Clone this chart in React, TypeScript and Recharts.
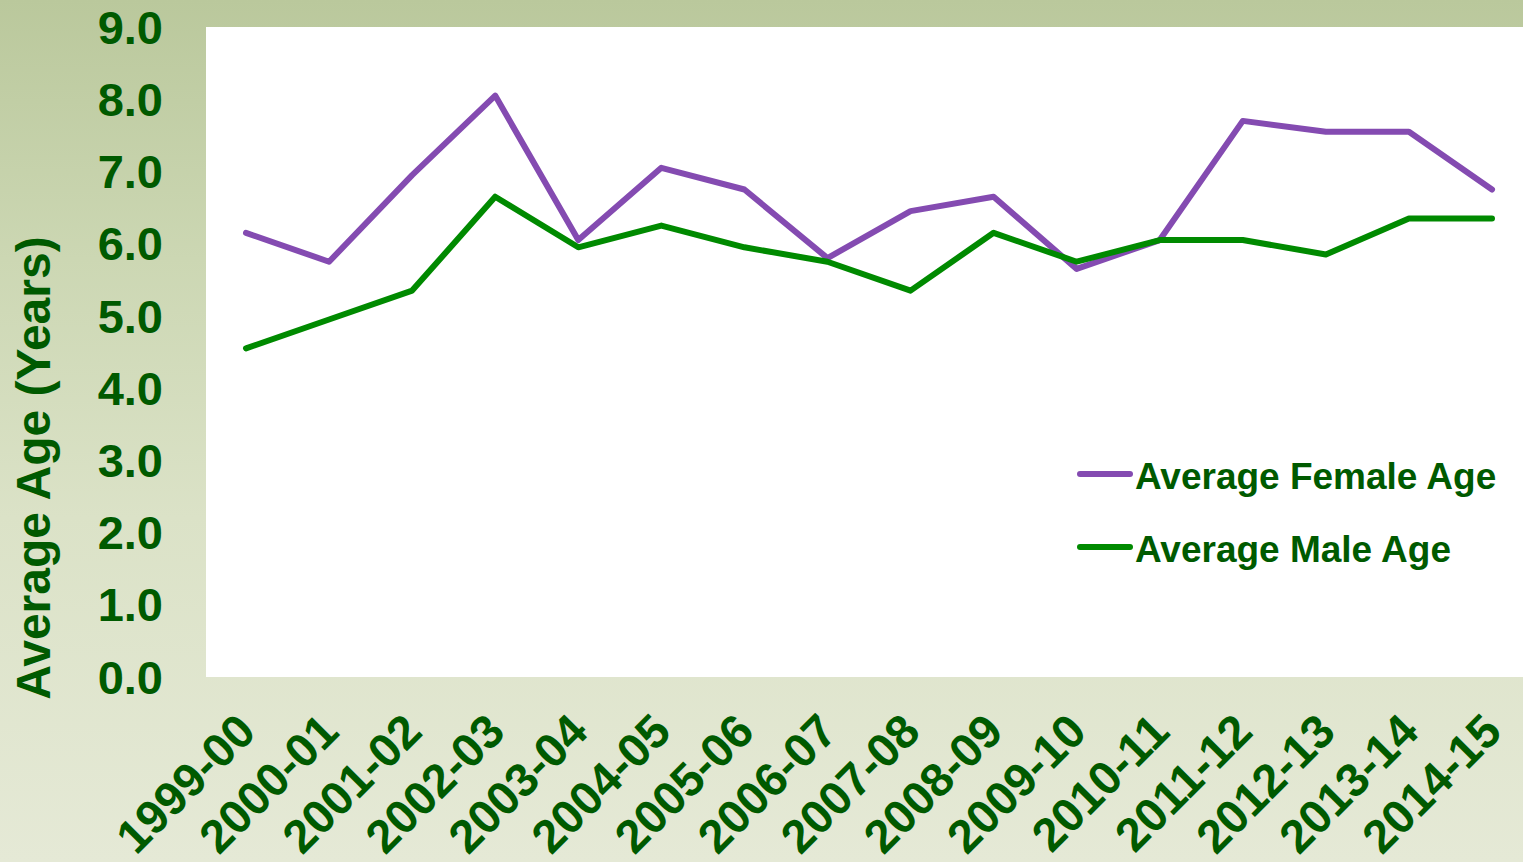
import { LineChart, Line, XAxis, YAxis, CartesianGrid } from 'recharts';

const seasons = [
  '1999-00', '2000-01', '2001-02', '2002-03', '2003-04', '2004-05', '2005-06', '2006-07',
  '2007-08', '2008-09', '2009-10', '2010-11', '2011-12', '2012-13', '2013-14', '2014-15',
];
const femaleAge = [6.15, 5.75, 6.95, 8.05, 6.05, 7.05, 6.75, 5.8, 6.45, 6.65, 5.65, 6.05, 7.7, 7.55, 7.55, 6.75];
const maleAge = [4.55, 4.95, 5.35, 6.65, 5.95, 6.25, 5.95, 5.75, 5.35, 6.15, 5.75, 6.05, 6.05, 5.85, 6.35, 6.35];
const yTicks = [0, 1, 2, 3, 4, 5, 6, 7, 8, 9];

const data = seasons.map((s, i) => ({ season: s, female: femaleAge[i], male: maleAge[i] }));

const TEXT = '#005a00';
const PURPLE = '#844bb1';
const GREEN = '#008a00';
const FONT = '"Liberation Sans", Arial, sans-serif';

const series = [
  { key: 'female', name: 'Average Female Age', color: PURPLE },
  { key: 'male', name: 'Average Male Age', color: GREEN },
];

// rotated season labels, end of text sits just right of / below the tick
const SeasonTick = ({ x, y, payload }: any) => (
  <text
    x={x + 12}
    y={y + 57}
    transform={`rotate(-45, ${x + 12}, ${y + 57})`}
    textAnchor="end"
    fill={TEXT}
    fontFamily={FONT}
    fontWeight="bold"
    fontSize={47}
  >
    {payload.value}
  </text>
);

export default function App() {
  return (
    <div
      style={{
        position: 'absolute',
        left: 0,
        top: 0,
        width: 1523,
        height: 862,
        overflow: 'hidden',
        background: 'linear-gradient(180deg, #bac89c 0%, #ccd7b3 30%, #dbe2c7 60%, #e5e9d6 100%)',
      }}
    >
      <LineChart width={1523} height={862} data={data} margin={{ top: 27, right: 0, bottom: 0, left: 0 }}>
        <CartesianGrid fill="#ffffff" stroke="none" strokeOpacity={0} horizontal={false} vertical={false} />
        <XAxis
          dataKey="season"
          height={185}
          padding={{ left: 40, right: 31 }}
          axisLine={false}
          tickLine={false}
          tickSize={0}
          tickMargin={0}
          interval={0}
          tick={<SeasonTick />}
        />
        <YAxis
          width={206}
          domain={[0, 9]}
          ticks={yTicks}
          interval={0}
          axisLine={false}
          tickLine={false}
          tickSize={0}
          tickMargin={43}
          tickFormatter={(v: number) => v.toFixed(1)}
          tick={{ fill: TEXT, fontSize: 47, fontWeight: 'bold', fontFamily: FONT }}
        />
        {series.map((s) => (
          <Line
            key={s.key}
            type="linear"
            dataKey={s.key}
            name={s.name}
            stroke={s.color}
            strokeWidth={6}
            strokeLinecap="round"
            strokeLinejoin="round"
            dot={false}
            isAnimationActive={false}
          />
        ))}
      </LineChart>
      <div style={{ position: 'absolute', left: 1077, top: 440, fontFamily: FONT }}>
        {series.map((s) => (
          <div key={s.key} style={{ display: 'flex', alignItems: 'center', height: 73 }}>
            <div style={{ width: 56, height: 6, borderRadius: 3, background: s.color, marginTop: -6 }} />
            <span style={{ color: TEXT, fontSize: 37, fontWeight: 'bold', marginLeft: 2, whiteSpace: 'nowrap' }}>
              {s.name}
            </span>
          </div>
        ))}
      </div>
      <div
        style={{
          position: 'absolute',
          left: 33,
          top: 468,
          transform: 'translate(-50%, -50%) rotate(-90deg)',
          color: TEXT,
          fontFamily: FONT,
          fontWeight: 'bold',
          fontSize: 48,
          whiteSpace: 'nowrap',
        }}
      >
        Average Age (Years)
      </div>
    </div>
  );
}
